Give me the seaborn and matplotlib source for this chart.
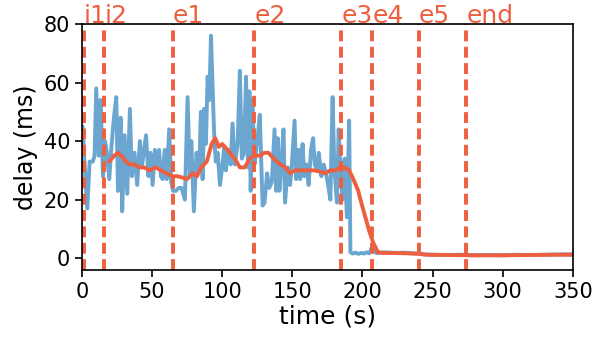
import matplotlib
matplotlib.use("Agg")
import matplotlib.pyplot as plt
import seaborn as sns
import pandas as pd

# --- datos ---

# retardo medido (serie cruda)
raw_time = [0.5, 1.9, 3.8, 5.5, 7.8, 9, 10.2, 12, 13.3, 15, 16.5, 17.8, 19.5, 20.7,
            22.8, 24.5, 25.7, 27.6, 28.7, 30.4, 32.3, 34.2, 35.6, 37.5, 39.4, 41.3,
            42.7, 44, 45.7, 47.4, 48.8, 50.4, 52, 53.4, 55, 56.3, 57.5, 59, 60.4,
            62.2, 63.6, 65, 67, 69, 71, 73.4, 75.3, 77, 78, 79.8, 81.7, 83.6, 84.8,
            86, 87.2, 88.4, 89.6, 90.8, 92, 93.2, 94.2, 95.4, 96.8, 98.4, 100,
            101.5, 102.6, 104.3, 106, 107.4, 109, 111, 112.6, 114, 115.5, 117,
            118.4, 119.4, 120.3, 121.5, 123, 125, 126.8, 128.8, 130.2, 132, 133.5,
            135.4, 137.3, 138.5, 139.6, 140.8, 142, 143.7, 144.8, 146.7, 148.4,
            149.5, 151.6, 152.7, 154.4, 155.6, 157.3, 158.5, 160, 161.6, 163.3,
            164.8, 166, 167.7, 168.8, 170.7, 172.4, 174, 175.5, 177.1, 178.7, 180,
            181.8, 183, 184.4, 185.8, 187.3, 188.9, 190.5, 191.4, 193, 195, 197,
            199, 201, 203, 205, 207, 208, 210, 215, 220, 225, 230, 235, 240, 245,
            250, 260, 270, 280, 290, 300, 310, 320, 330, 340, 350]
raw_delay = [45, 32, 17, 33, 33, 35, 58, 35, 54, 28, 40, 36, 27, 36,
             48, 55, 23, 48, 16, 42, 22, 51, 28, 36, 25, 40,
             31, 36, 42, 28, 36, 25, 37, 32, 37, 28, 27, 37, 27,
             44, 26, 23, 23, 24, 24, 20, 55, 28, 40, 16, 36, 30, 50,
             27, 51, 39, 62, 54, 76, 58, 43, 33, 36, 25, 31,
             38, 30, 37, 32, 46, 32, 39, 64, 34, 36, 62,
             31, 57, 23, 54, 32, 40, 49, 18, 19, 29, 24,
             26, 44, 23, 41, 23, 31, 44, 19, 31, 25,
             31, 47, 27, 37, 27, 39, 28, 32, 25, 37,
             41, 32, 30, 36, 28, 32, 29, 25, 20, 55, 30,
             19, 44, 30, 20, 34, 14, 47, 2, 1.6, 1.9, 1.5,
             1.8, 1.6, 2.0, 1.7, 4.2, 2.2, 1.8, 2.0, 1.9, 1.8, 1.9, 1.7, 1.6, 1.3,
             1.2, 1.1, 1.2, 1.0, 1.1, 1.0, 1.2, 1.1, 1.2, 1.3, 1.3]

# retardo suavizado
smooth_time = [19.5, 23, 25.7, 28, 31.5, 34, 37.5, 41, 44.5, 48, 52.7, 56.3, 60,
               64.6, 68, 72, 75, 79, 82, 85, 89, 92.5, 95, 97.6, 100, 102, 105.5,
               109, 112.6, 116, 119.7, 123, 126.8, 130, 133, 136.7, 141.4, 145,
               148.4, 152, 155, 159, 162, 166, 170, 173.5, 177, 180.5, 184, 187.5,
               190.5, 193.5, 197, 198, 201.7, 205, 207.6, 209, 211, 215, 220, 230,
               240, 245, 260, 280, 300, 320, 340, 350]
smooth_delay = [33, 35, 36, 35, 33, 32, 32, 31, 31, 30, 31, 30, 29,
                28, 28, 27.5, 27, 29, 28, 31, 33, 39, 41, 38, 39, 38, 36,
                34, 31, 31, 34, 35, 35, 36, 36, 34, 32, 31,
                29, 30, 30, 30, 30, 30, 29.5, 29, 30, 30, 31, 31,
                30, 27, 23, 21, 14.6, 9, 5.4, 4, 2, 1.8, 1.8, 1.7,
                1.5, 1.2, 1.1, 1.0, 1.0, 1.1, 1.2, 1.2]

# eventos
event_names = ["i1", "i2", "e1", "e2", "e3", "e4", "e5", "end"]
event_times = [1.5, 16, 65, 123, 185, 207, 240, 274]

blue = "#6BA6D0"
red = "#EE5F3F"

sns.set_style("ticks")
fig = plt.figure(figsize=(5.98, 3.37), dpi=100)
ax = fig.add_axes([0.137, 0.199, 0.821, 0.73])

raw = pd.DataFrame({"time": raw_time, "delay": raw_delay})
smooth = pd.DataFrame({"time": smooth_time, "delay": smooth_delay})

sns.lineplot(data=raw, x="time", y="delay", color=blue, linewidth=2.8, ax=ax)
sns.lineplot(data=smooth, x="time", y="delay", color=red, linewidth=2.8, ax=ax)

# lineas verticales de eventos con su etiqueta encima del eje
for name, t in zip(event_names, event_times):
    ax.axvline(t, color=red, linestyle="--", linewidth=2.8, dashes=(2.8, 1.4))
    ax.text(t, 80.4, name, color=red, fontsize=18, ha="left", va="baseline")

ax.set_xlim(0, 350)
ax.set_ylim(-4, 80)
ax.set_xticks([0, 50, 100, 150, 200, 250, 300, 350])
ax.set_yticks([0, 20, 40, 60, 80])
ax.tick_params(labelsize=15, width=1.2, length=5, colors="black")
for s in ax.spines.values():
    s.set_linewidth(1.2)
    s.set_color("black")
ax.set_xlabel("time (s)", fontsize=18, labelpad=2, color="black")
ax.set_ylabel("delay (ms)", fontsize=17, labelpad=4, color="black")

fig.savefig("out.png", dpi=100)
plt.close(fig)
